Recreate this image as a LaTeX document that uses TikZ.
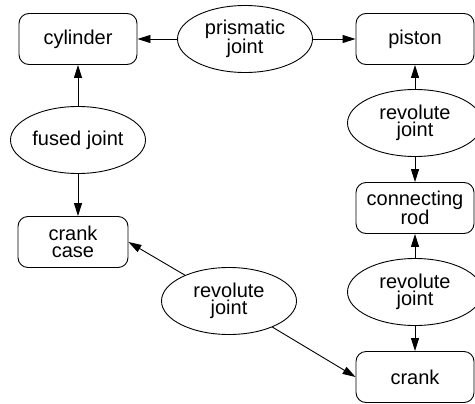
\documentclass[tikz,border=0pt]{standalone}
\usepackage{fontspec}
\setmainfont{Liberation Sans}
\usetikzlibrary{shapes.geometric,arrows.meta}
\begin{document}
\begin{tikzpicture}[x=1bp,y=1bp,
  box/.style={draw,rounded corners=10bp,minimum width=118bp,minimum height=51bp,inner sep=0pt,align=center,font=\fontsize{20bp}{17bp}\selectfont,line width=0.9bp},
  joint/.style={draw,ellipse,minimum width=135bp,minimum height=67bp,inner sep=0pt,align=center,font=\fontsize{20bp}{17bp}\selectfont,line width=0.9bp},
  arr/.style={-{Triangle[length=13bp,width=8bp]},line width=0.9bp}]
\useasboundingbox (0,0) rectangle (475,403);
\node[box] (cyl) at (78,364) {cylinder};
\node[joint] (pj) at (245,364) {prismatic\\joint};
\node[box] (pis) at (415,364) {piston};
\node[joint] (fj) at (78,263) {fused joint};
\node[joint] (rj1) at (415,280) {revolute\\joint};
\node[box] (rod) at (415,195) {connecting\\rod};
\node[joint] (rj2) at (415,111) {revolute\\joint};
\node[box] (crank) at (415,26) {crank};
\node[box,minimum width=110bp] (case) at (73,161) {crank\\case};
\node[joint] (rj3) at (229,102) {revolute\\joint};
\draw[arr] (pj) -- (cyl);
\draw[arr] (pj) -- (pis);
\draw[arr] (fj) -- (cyl);
\draw[arr] (fj.south) -- (fj.south |- case.north);
\draw[arr] (rj1) -- (pis);
\draw[arr] (rj1) -- (rod);
\draw[arr] (rj2) -- (rod);
\draw[arr] (rj2) -- (crank);
\draw[arr] (rj3) -- (case.east);
\draw[arr] (rj3) -- (crank.west);
\end{tikzpicture}
\end{document}
